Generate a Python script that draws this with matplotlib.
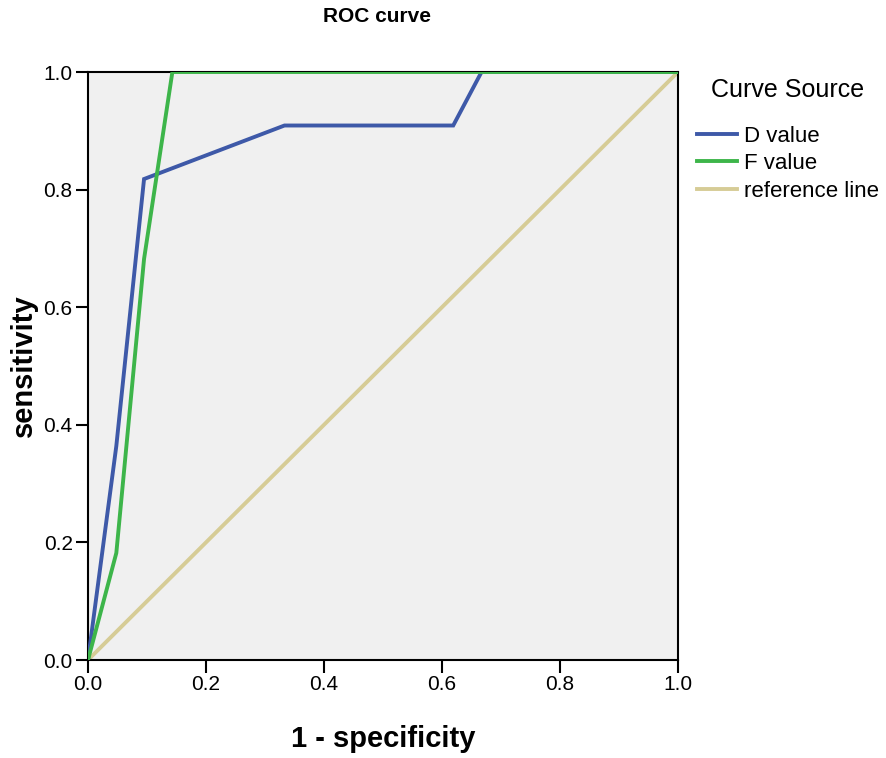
import matplotlib
matplotlib.use("Agg")
import matplotlib.pyplot as plt

plt.rcParams['font.family'] = ['Liberation Sans', 'DejaVu Sans']

d_x = [0.0, 0.048, 0.095, 0.333, 0.619, 0.667, 1.0]
d_y = [0.0, 0.364, 0.818, 0.909, 0.909, 1.0, 1.0]
f_x = [0.0, 0.048, 0.095, 0.143, 1.0]
f_y = [0.0, 0.182, 0.682, 1.0, 1.0]
ref_x = [0.0, 1.0]
ref_y = [0.0, 1.0]
ticks = [0.0, 0.2, 0.4, 0.6, 0.8, 1.0]
tick_labels = ["0.0", "0.2", "0.4", "0.6", "0.8", "1.0"]

fig = plt.figure(figsize=(8.86, 7.58), dpi=100)
ax = fig.add_axes([88/886, 1-660/758, 590/886, 588/758])
ax.set_facecolor('#f0f0f0')

ax.plot(ref_x, ref_y, color='#d6cc96', lw=2.8, label='reference line', zorder=2)
ax.plot(d_x, d_y, color='#3e59a8', lw=2.8, label='D value', zorder=3, solid_joinstyle='miter')
ax.plot(f_x, f_y, color='#3db54a', lw=2.8, label='F value', zorder=4, solid_joinstyle='miter')

ax.set_xlim(0, 1)
ax.set_ylim(0, 1)
ax.set_xticks(ticks)
ax.set_xticklabels(tick_labels)
ax.set_yticks(ticks)
ax.set_yticklabels(tick_labels)
ax.tick_params(direction='out', length=9, width=1.5, labelsize=15, colors='black', pad=2)
for s in ax.spines.values():
    s.set_linewidth(1.5)

ax.set_xlabel('1 - specificity', fontsize=21, fontweight='bold', labelpad=22)
ax.set_ylabel('sensitivity', fontsize=21, fontweight='bold', labelpad=4)
fig.text(377/886, 1-16/758, 'ROC curve', ha='center', va='center', fontsize=15, fontweight='bold')

handles, labels = ax.get_legend_handles_labels()
order = [1, 2, 0]
leg = fig.legend([handles[i] for i in order], [labels[i] for i in order],
                 loc='upper left', bbox_to_anchor=(697/886, 1-78/758),
                 frameon=False, fontsize=16, title='Curve Source', title_fontsize=18,
                 handlelength=1.8, handletextpad=0.3, labelspacing=0.3, borderaxespad=0,
                 borderpad=0)
leg._legend_box.sep = 17

fig.savefig('out.png', dpi=100)
